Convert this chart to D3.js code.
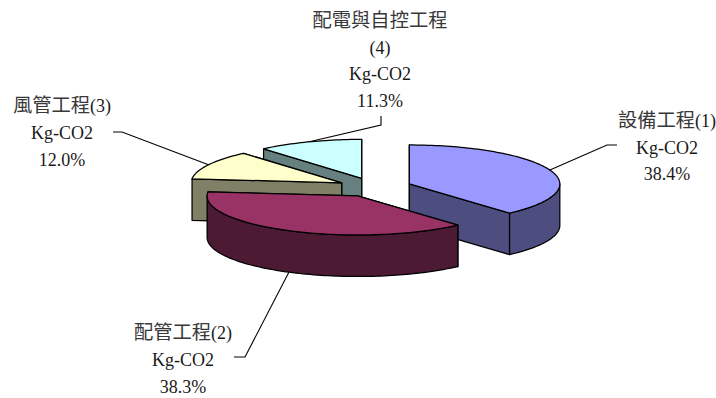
<!DOCTYPE html>
<html>
<head>
<meta charset="utf-8">
<script src="https://cdn.jsdelivr.net/npm/d3@7"></script>
<style>
  html, body { margin: 0; padding: 0; background: #fff; }
  svg { display: block; }
  text { font-family: "Liberation Serif", "Noto Sans CJK TC", serif; font-size: 18px; fill: #1a1a1a; }
  .cjk { font-size: 19.3px; fill: #383838; }
</style>
</head>
<body>
<svg id="chart" width="716" height="398"></svg>
<script>
// Emission share per work package, exploded 3D pie
const categories = ["設備工程(1)", "配管工程(2)", "風管工程(3)", "配電與自控工程"];
const shares = [38.4, 38.3, 12.0, 11.3];
const unit = "Kg-CO2";
const topColors = ["#9999ff", "#993366", "#ffffcc", "#ccffff"];
const wallColors = ["#4d4d80", "#4d1a33", "#808066", "#668080"];

// Extra line under a long category name
const nameSuffix = [null, null, null, "(4)"];

// Pie geometry on screen
const center = { x: 374.6, y: 187.4 };
const rx = 150.5, ry = 39, depth = 41.5, explode = 0.247;

// Label block centre, first baseline, leader elbow and stub end
const labelLayout = [
  { x: 667, y: 127, lineH: 26.5, elbow: [607, 145], stub: [617, 145] },
  { x: 183, y: 339, lineH: 27, elbow: [245, 357], stub: [234, 357] },
  { x: 62, y: 112, lineH: 27, elbow: [122, 132], stub: [113, 132] },
  { x: 380, y: 27, lineH: 26.5, elbow: [381, 125], stub: [381, 116] }
];

const svg = d3.select("#chart");

const slices = d3.pie().sort(null).value(d => d).startAngle(0).endAngle(2 * Math.PI)(shares);

// Angle 0 points up, angles grow clockwise; the circle is squashed to an ellipse
const rim = (c, a, drop = 0) => [c.x + rx * Math.sin(a), c.y - ry * Math.cos(a) + drop];
const line = d3.line();

function arcPoints(c, a0, a1, drop) {
  const n = Math.max(2, Math.ceil((a1 - a0) * 40));
  return d3.range(n + 1).map(i => rim(c, a0 + (a1 - a0) * i / n, drop));
}

const slicePos = slices.map(s => {
  const mid = (s.startAngle + s.endAngle) / 2;
  return {
    mid,
    c: {
      x: center.x + explode * rx * Math.sin(mid),
      y: center.y - explode * ry * Math.cos(mid)
    }
  };
});

// Painter's order: right slice, then back slices, then the front one
const drawOrder = [0, 3, 2, 1];

const pieG = svg.append("g")
  .attr("stroke", "#000").attr("stroke-width", 1.25).attr("stroke-linejoin", "round");

drawOrder.forEach(i => {
  const s = slices[i], { c } = slicePos[i];
  const g = pieG.append("g");

  // Radial cut faces, rear one first
  [s.startAngle, s.endAngle]
    .sort((a, b) => rim(c, a)[1] - rim(c, b)[1])
    .forEach(a => {
      const p = rim(c, a);
      g.append("path")
        .attr("fill", wallColors[i])
        .attr("d", line([[c.x, c.y], p, [p[0], p[1] + depth], [c.x, c.y + depth]]) + "Z");
    });

  // Outer wall, only the part facing the viewer
  const a0 = Math.max(s.startAngle, Math.PI / 2);
  const a1 = Math.min(s.endAngle, 3 * Math.PI / 2);
  if (a1 > a0) {
    const upper = arcPoints(c, a0, a1, 0);
    const lower = arcPoints(c, a0, a1, depth).reverse();
    g.append("path")
      .attr("fill", wallColors[i])
      .attr("d", line(upper.concat(lower)) + "Z");
  }

  // Top surface
  g.append("path")
    .attr("fill", topColors[i])
    .attr("d", line([[c.x, c.y]].concat(arcPoints(c, s.startAngle, s.endAngle, 0))) + "Z");
});

// Leader lines run from the rim at each slice's middle angle
const leaderG = svg.append("g").attr("fill", "none").attr("stroke", "#000").attr("stroke-width", 1.1);
slices.forEach((s, i) => {
  const { c, mid } = slicePos[i];
  const frontFacing = Math.cos(mid) < 0;
  const start = rim(c, mid, frontFacing ? depth : 0);
  const l = labelLayout[i];
  leaderG.append("path").attr("d", line([start, l.elbow, l.stub]));
});

// Labels: name, optional suffix line, unit, percentage
function addRuns(textSel, str) {
  str.split(/([\u4e00-\u9fff]+)/).filter(Boolean).forEach(run => {
    textSel.append("tspan")
      .attr("class", /[\u4e00-\u9fff]/.test(run) ? "cjk" : null)
      .text(run);
  });
}

categories.forEach((name, i) => {
  const l = labelLayout[i];
  const lines = [name, nameSuffix[i], unit, shares[i].toFixed(1) + "%"].filter(Boolean);
  lines.forEach((t, k) => {
    const text = svg.append("text")
      .attr("x", l.x)
      .attr("y", l.y + k * l.lineH)
      .attr("text-anchor", "middle");
    addRuns(text, t);
  });
});
</script>
</body>
</html>
